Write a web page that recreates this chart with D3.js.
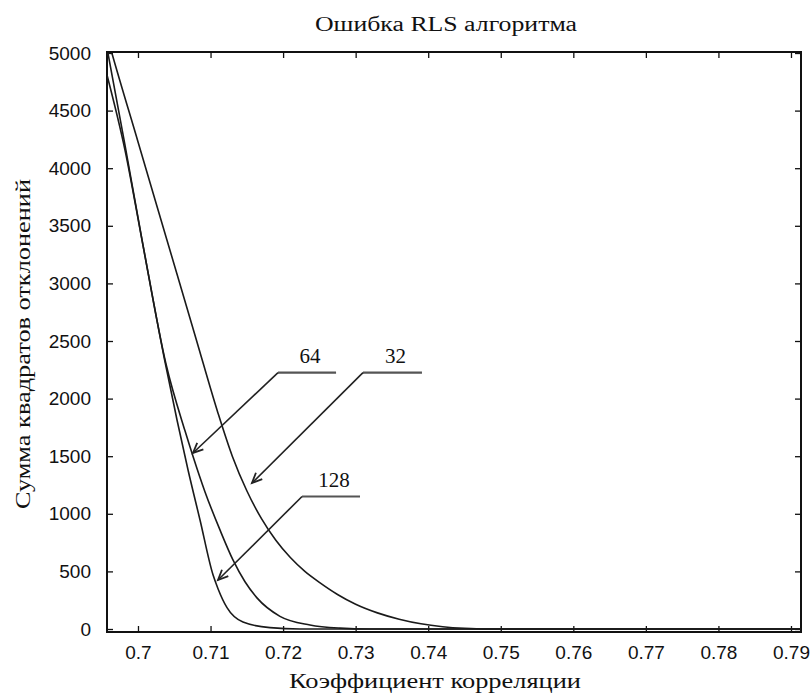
<!DOCTYPE html>
<html>
<head>
<meta charset="utf-8">
<script src="https://cdn.jsdelivr.net/npm/d3@7"></script>
<style>
  body { margin: 0; background: #fff; }
  .tick text { font-family: "Liberation Sans", Arial, sans-serif; font-size: 19px; fill: #111; }
  .lbl { font-family: "Liberation Serif", "Times New Roman", serif; fill: #111; }
</style>
</head>
<body>
<script>
// tick values
var xTicks = [0.7, 0.71, 0.72, 0.73, 0.74, 0.75, 0.76, 0.77, 0.78, 0.79];
var yTicks = [0, 500, 1000, 1500, 2000, 2500, 3000, 3500, 4000, 4500, 5000];

// curves: correlation coefficient -> sum of squared deviations
var x32 = [0.69573, 0.6964, 0.7000, 0.7040, 0.7080, 0.7110, 0.7130, 0.7150, 0.7170, 0.7190, 0.7210, 0.7230, 0.7250, 0.7275, 0.7300, 0.7330, 0.7360, 0.7390, 0.7420, 0.7450, 0.7480, 0.79138];
var v32 = [5150, 5000, 4230, 3375, 2520, 1880, 1500, 1200, 960, 770, 620, 500, 405, 300, 215, 140, 85, 45, 20, 6, 0, 0];

var x64 = [0.69573, 0.69821, 0.70069, 0.70386, 0.70648, 0.70758, 0.70924, 0.71130, 0.71309, 0.71475, 0.71640, 0.71957, 0.72370, 0.72784, 0.73197, 0.79138];
var v64 = [5043, 4201, 3333, 2300, 1720, 1500, 1190, 860, 600, 410, 270, 110, 35, 8, 0, 0];

var x128 = [0.69573, 0.69821, 0.70055, 0.70359, 0.70538, 0.70690, 0.70855, 0.71034, 0.71103, 0.71227, 0.71447, 0.71819, 0.72233, 0.79138];
var v128 = [4809, 4158, 3377, 2361, 1814, 1380, 946, 470, 350, 185, 60, 12, 0, 0];

// annotation callouts: label, arrow tip, elbow, end of the shelf line
var annLabels = ["64", "32", "128"];
var annTipX = [0.70758, 0.71571, 0.71103];
var annTipV = [1528, 1267, 425];
var annElbowX = [0.71930, 0.73101, 0.72261];
var annElbowV = [2225, 2225, 1150];
var annEndX = [0.72730, 0.73914, 0.73060];

var margin = {top: 53, right: 10, bottom: 63, left: 107},
    width = 801 - margin.left,
    height = 629 - margin.top;

var x = d3.scaleLinear().domain([0.69573, 0.79138]).range([0, width]);
var y = d3.scaleLinear().domain([0, 5000]).range([height, 0]);

var svg = d3.select("body").append("svg")
    .attr("width", 811)
    .attr("height", 695)
  .append("g")
    .attr("transform", "translate(" + margin.left + "," + margin.top + ")");

svg.append("defs").append("clipPath").attr("id", "clip")
  .append("rect").attr("x", 0).attr("y", 0).attr("width", width).attr("height", height + 4);

var boxBottom = height + 3;

// frame
svg.append("rect")
    .attr("x", 0).attr("y", -1)
    .attr("width", width).attr("height", boxBottom + 1)
    .attr("fill", "none").attr("stroke", "#111").attr("stroke-width", 2);

// axes with inward ticks
var xb = svg.append("g").attr("transform", "translate(0," + boxBottom + ")")
    .call(d3.axisBottom(x).tickValues(xTicks).tickSize(-6).tickPadding(14).tickFormat(d3.format("")));
var xt = svg.append("g").attr("transform", "translate(0,-1)")
    .call(d3.axisTop(x).tickValues(xTicks).tickSize(-6).tickFormat(""));
var yl = svg.append("g")
    .call(d3.axisLeft(y).tickValues(yTicks).tickSize(-6).tickPadding(16).tickFormat(d3.format("d")));
var yr = svg.append("g").attr("transform", "translate(" + width + ",0)")
    .call(d3.axisRight(y).tickValues(yTicks).tickSize(-6).tickFormat(""));
[xb, xt, yl, yr].forEach(function(g) {
  g.select(".domain").remove();
  g.selectAll(".tick line").attr("stroke", "#111").attr("stroke-width", 1.3);
});

// curves
var line = d3.line()
    .x(function(d) { return x(d[0]); })
    .y(function(d) { return y(d[1]); })
    .curve(d3.curveMonotoneX);

[[x32, v32], [x64, v64], [x128, v128]].forEach(function(s) {
  svg.append("path")
      .datum(d3.zip(s[0], s[1]))
      .attr("clip-path", "url(#clip)")
      .attr("fill", "none")
      .attr("stroke", "#1a1a1a")
      .attr("stroke-width", 1.6)
      .attr("d", line);
});

// callouts
annLabels.forEach(function(t, i) {
  var tx = x(annTipX[i]), ty = y(annTipV[i]);
  var ex = x(annElbowX[i]), ey = y(annElbowV[i]);
  var fx = x(annEndX[i]);
  svg.append("line").attr("x1", ex).attr("y1", ey).attr("x2", fx).attr("y2", ey)
      .attr("stroke", "#555").attr("stroke-width", 2.2);
  svg.append("line").attr("x1", ex).attr("y1", ey).attr("x2", tx).attr("y2", ty)
      .attr("stroke", "#222").attr("stroke-width", 1.6);
  var a = Math.atan2(ey - ty, ex - tx), L = 11, w = 0.42;
  svg.append("path")
      .attr("d", "M" + (tx + L * Math.cos(a + w)) + "," + (ty + L * Math.sin(a + w)) +
                 "L" + tx + "," + ty +
                 "L" + (tx + L * Math.cos(a - w)) + "," + (ty + L * Math.sin(a - w)))
      .attr("fill", "none").attr("stroke", "#222").attr("stroke-width", 1.8);
  svg.append("text").attr("class", "lbl")
      .attr("x", (ex + fx) / 2 + 3).attr("y", ey - 10)
      .attr("text-anchor", "middle")
      .style("font-size", "21px")
      .text(t);
});

// title and axis labels
svg.append("text").attr("class", "lbl")
    .attr("x", 446 - margin.left).attr("y", 31 - margin.top)
    .attr("text-anchor", "middle")
    .attr("textLength", 262).attr("lengthAdjust", "spacingAndGlyphs")
    .style("font-size", "20px")
    .text("Ошибка RLS алгоритма");

svg.append("text").attr("class", "lbl")
    .attr("x", 435 - margin.left).attr("y", 688 - margin.top)
    .attr("text-anchor", "middle")
    .attr("textLength", 292).attr("lengthAdjust", "spacingAndGlyphs")
    .style("font-size", "22px")
    .text("Коэффициент корреляции");

svg.append("text").attr("class", "lbl")
    .attr("transform", "translate(" + (30 - margin.left) + "," + (344 - margin.top) + ") rotate(-90)")
    .attr("text-anchor", "middle")
    .attr("textLength", 330).attr("lengthAdjust", "spacingAndGlyphs")
    .style("font-size", "21px")
    .text("Сумма квадратов отклонений");
</script>
</body>
</html>
